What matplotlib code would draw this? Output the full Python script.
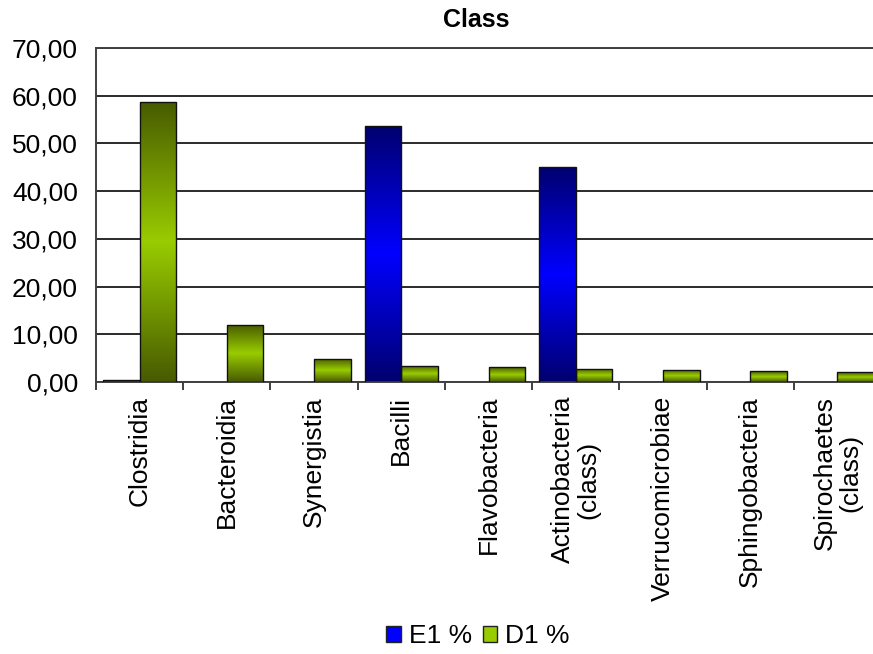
import numpy as np
import matplotlib
matplotlib.use("Agg")
import matplotlib.pyplot as plt
from matplotlib.colors import LinearSegmentedColormap
from matplotlib.patches import Patch

plt.rcParams['font.family'] = ['Liberation Sans', 'DejaVu Sans']

categories = ['Clostridia', 'Bacteroidia', 'Synergistia', 'Bacilli', 'Flavobacteria',
              'Actinobacteria\n(class)', 'Verrucomicrobiae', 'Sphingobacteria',
              'Spirochaetes\n(class)']
e1 = [0.5, 0.0, 0.0, 53.7, 0.0, 45.1, 0.0, 0.0, 0.0]
d1 = [58.7, 12.0, 4.9, 3.4, 3.1, 2.8, 2.6, 2.3, 2.0]
yticks = [0, 10, 20, 30, 40, 50, 60, 70]

blue_cmap = LinearSegmentedColormap.from_list('b', ['#00006e', '#0000ff', '#00006e'])
green_cmap = LinearSegmentedColormap.from_list('g', ['#475a00', '#99cc00', '#475a00'])

fig = plt.figure(figsize=(8.73, 6.54), dpi=100)
ax = fig.add_axes([96/873, 1-382/654, 785/873, 334/654])

x = np.arange(len(categories))
w = 0.42
grad = np.linspace(0, 1, 256).reshape(-1, 1)


def gradient_bars(xs, vals, cmap):
    bars = ax.bar(xs, vals, width=w, color='none', edgecolor='#111111', linewidth=1.0, zorder=3)
    for b in bars:
        h = b.get_height()
        if h <= 0:
            b.set_visible(False)
            continue
        x0 = b.get_x()
        im = ax.imshow(grad, cmap=cmap, aspect='auto', origin='lower',
                       extent=[x0, x0 + b.get_width(), 0, h], zorder=2)
        im.set_clip_path(b)
    return bars


gradient_bars(x - w/2, e1, blue_cmap)
gradient_bars(x + w/2, d1, green_cmap)

ax.set_xlim(-0.5, len(categories) - 0.5)
ax.set_ylim(0, 70)
ax.set_yticks(yticks)
ax.set_yticklabels([f'{v:.2f}'.replace('.', ',') for v in yticks], fontsize=19)
ax.tick_params(axis='y', length=0, pad=13)
ax.yaxis.grid(True, color='#2a2a2a', linewidth=1.4, zorder=0)
ax.set_axisbelow(True)

ax.set_xticks(x)
ax.set_xticklabels(categories, rotation=90, fontsize=19, ha='center', va='top',
                   multialignment='center', linespacing=1.1)
ax.set_xticks(np.arange(len(categories) + 1) - 0.5, minor=True)
ax.tick_params(axis='x', which='major', length=0, pad=10)
ax.tick_params(axis='x', which='minor', length=6, width=1.3, color='#303030')

for s in ax.spines.values():
    s.set_color('#404040')
    s.set_linewidth(1.4)

fig.text(476/873, 1-20/654, 'Class', fontsize=18, fontweight='bold', ha='center', va='center')

handles = [Patch(facecolor='#0000ff', edgecolor='#222222', label='E1 %'),
           Patch(facecolor='#99cc00', edgecolor='#222222', label='D1 %')]
fig.legend(handles=handles, loc='center', bbox_to_anchor=(478/873, 1-636/654), ncol=2,
           frameon=False, fontsize=19, handlelength=0.55, handleheight=0.55,
           handletextpad=0.3, columnspacing=0.4)

fig.savefig('out.png', dpi=100)
